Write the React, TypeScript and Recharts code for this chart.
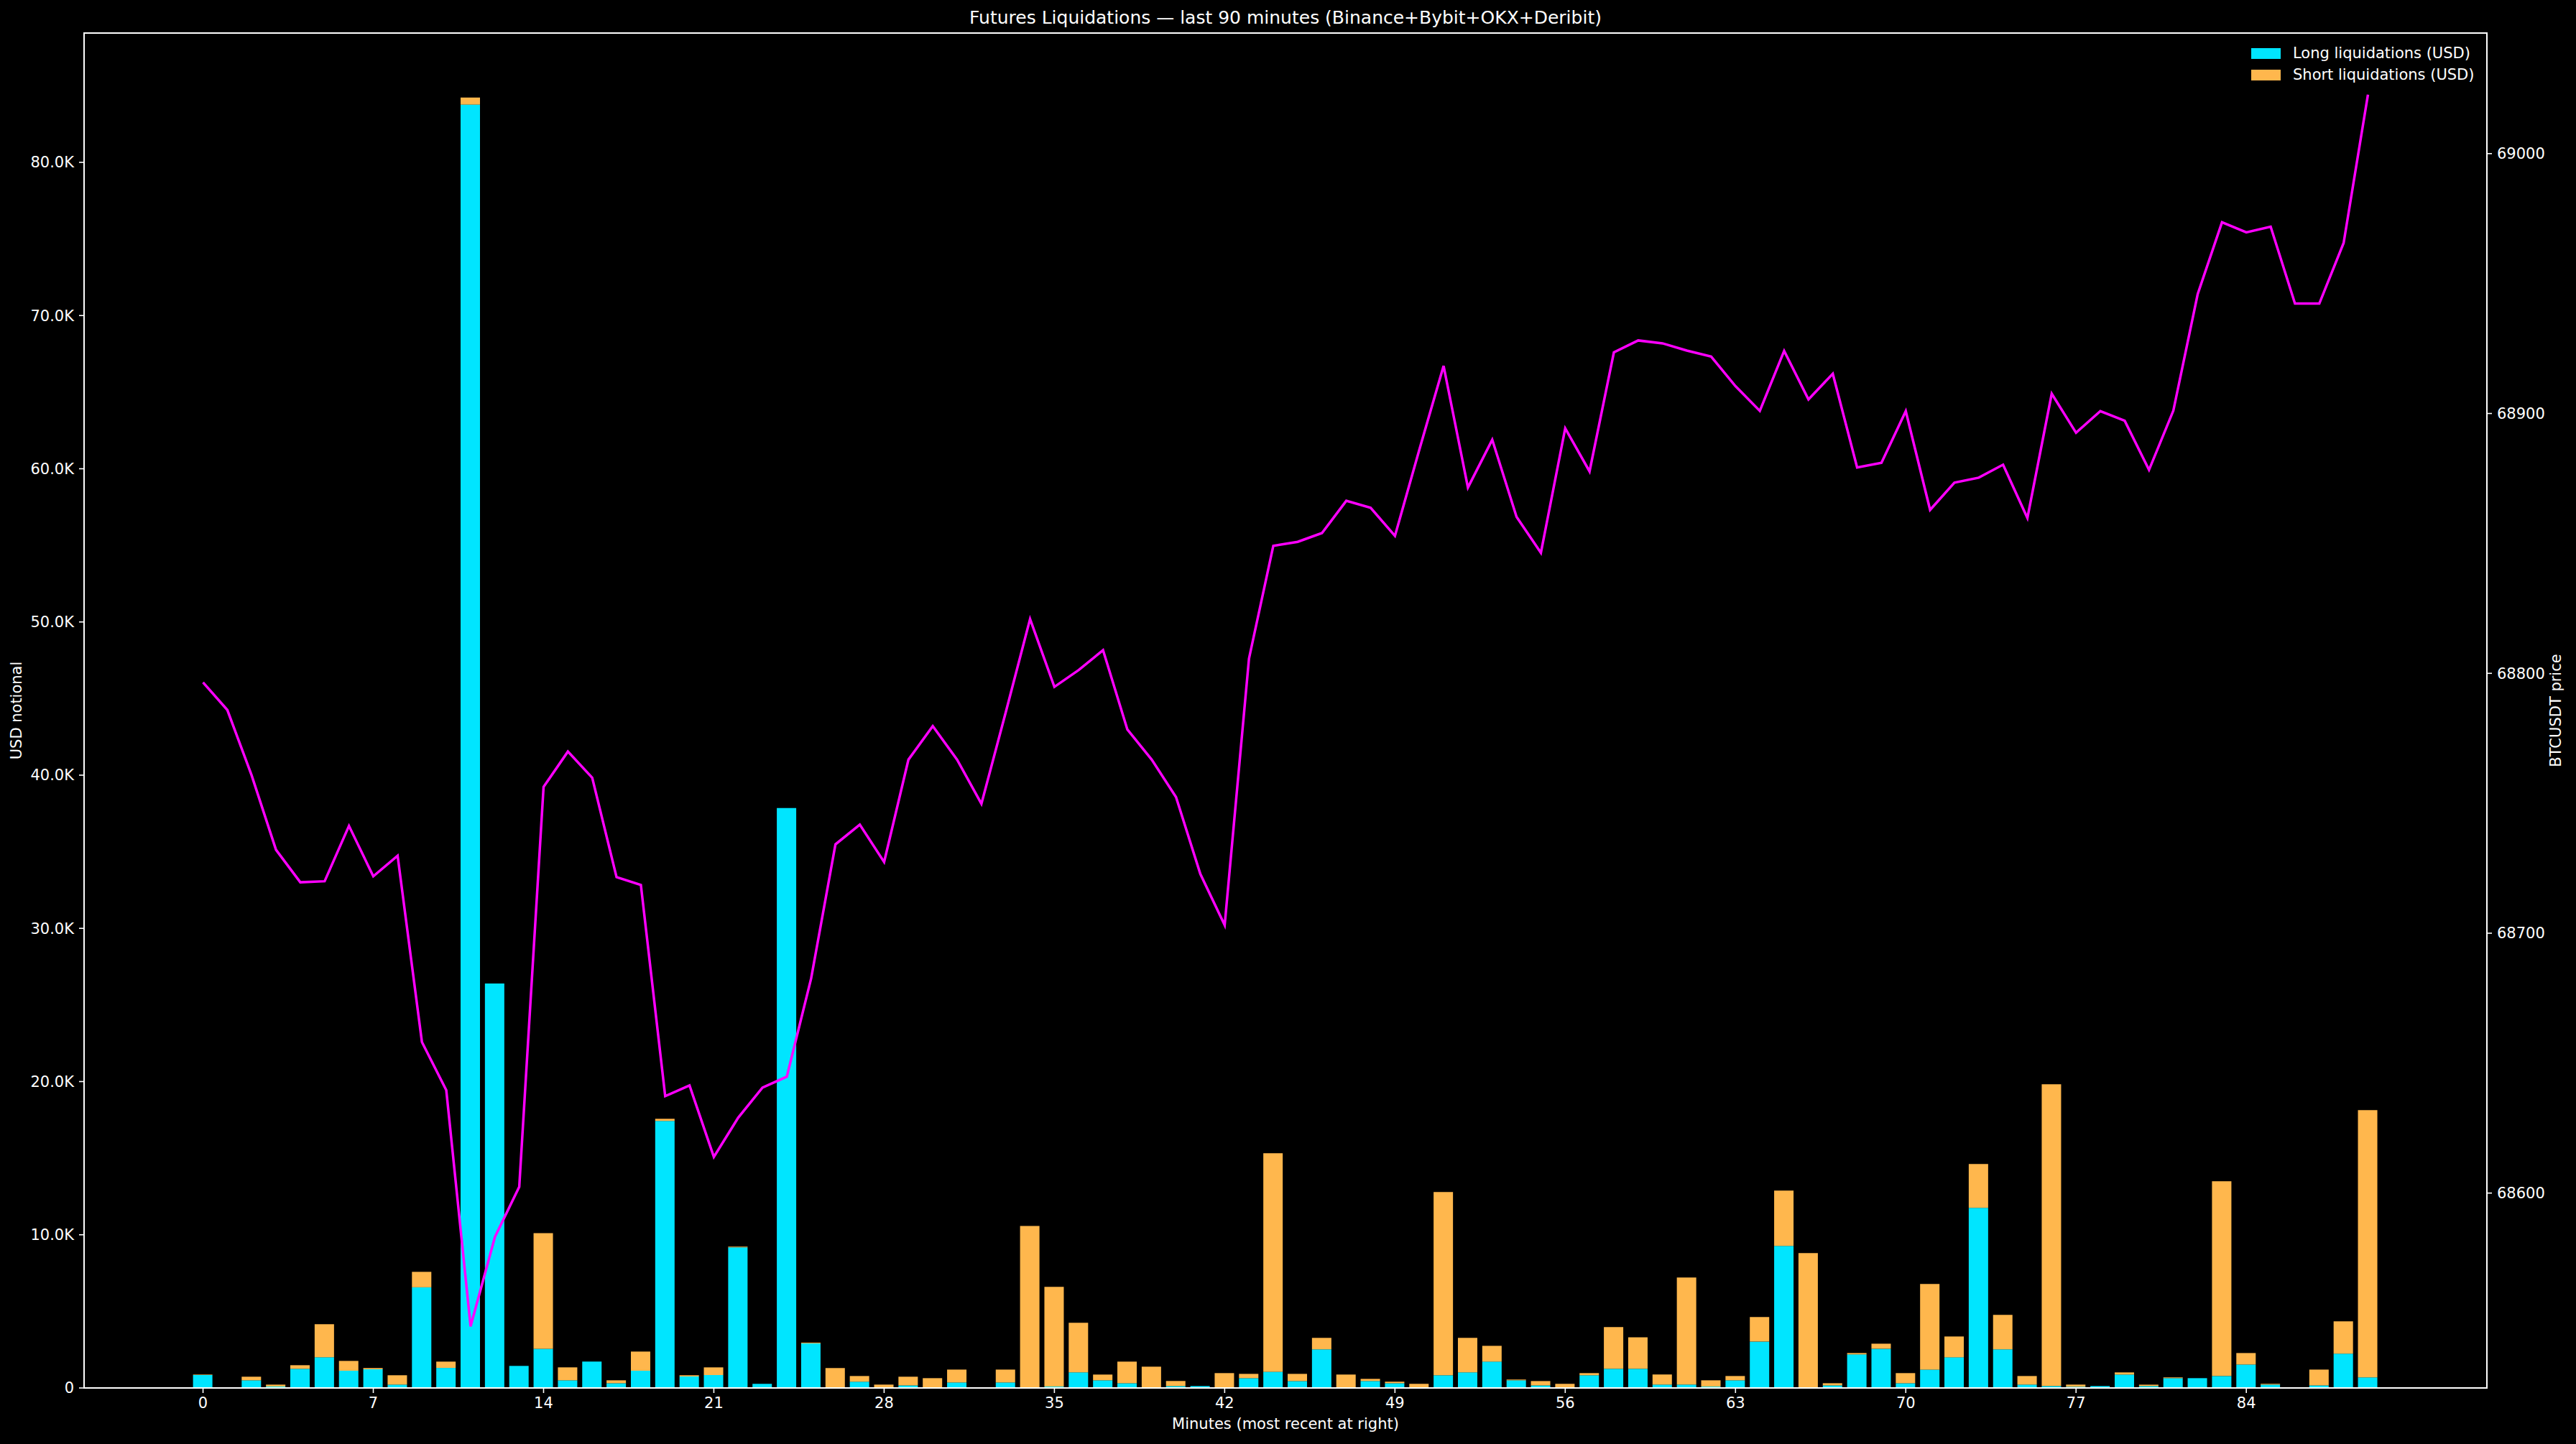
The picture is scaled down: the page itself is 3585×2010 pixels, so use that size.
import React from "react";
import {
  ComposedChart,
  Bar,
  Line,
  XAxis,
  YAxis,
} from "recharts";

// per-minute liquidation notional (USD), oldest at left
const longUsd = [
  844, 0, 500, 94, 1250, 2000, 1126, 1220, 220, 6570,
  1310, 83770, 26400, 1440, 2560, 500, 1720, 310, 1126, 17430,
  750, 844, 9180, 270, 37850, 2910, 0, 410, 0, 170,
  0, 360, 0, 360, 0, 90, 1020, 500, 310, 0,
  125, 125, 0, 640, 1060, 450, 2520, 0, 453, 310,
  0, 830, 1020, 1720, 500, 170, 0, 830, 1250, 1250,
  220, 220, 90, 500, 3030, 9270, 0, 170, 2190, 2560,
  310, 1200, 2000, 11760, 2520, 220, 125, 80, 125, 876,
  125, 640, 640, 780, 1530, 220, 0, 170, 2240, 690,
];

const shortUsd = [
  30, 0, 235, 125, 235, 2160, 640, 80, 610, 1010,
  410, 460, 0, 0, 7550, 845, 0, 190, 1250, 140,
  80, 500, 50, 0, 0, 50, 1300, 370, 220, 565,
  640, 840, 0, 840, 10580, 6510, 3230, 375, 1410, 1390,
  330, 0, 970, 280, 14260, 470, 750, 876, 140, 100,
  270, 11960, 2250, 1030, 50, 280, 270, 140, 2720, 2060,
  660, 6990, 410, 280, 1600, 3610, 8800, 140, 90, 330,
  660, 5590, 1360, 2860, 2250, 560, 19700, 140, 0, 140,
  90, 50, 0, 12710, 750, 50, 0, 1030, 2110, 17450,
];

const btcPrice = [
  68796.5, 68785.9, 68760.7, 68732.1, 68719.6, 68720.0, 68741.3, 68721.9, 68729.8, 68658.1,
  68639.6, 68548.7, 68583.1, 68602.4, 68756.3, 68769.9, 68759.8, 68721.6, 68718.6, 68637.3,
  68641.4, 68613.9, 68629.0, 68640.6, 68644.8, 68682.6, 68734.2, 68741.8, 68727.4, 68766.8,
  68779.7, 68766.8, 68749.8, 68785.0, 68820.9, 68794.8, 68801.3, 68808.9, 68778.4, 68766.8,
  68752.4, 68722.8, 68703.1, 68805.7, 68849.1, 68850.6, 68854.0, 68866.4, 68863.7, 68852.9,
  68886.0, 68918.3, 68871.5, 68889.9, 68860.2, 68846.4, 68894.3, 68877.7, 68923.5, 68928.1,
  68927.0, 68924.2, 68921.9, 68910.5, 68901.0, 68924.1, 68905.4, 68915.3, 68879.2, 68881.0,
  68900.9, 68862.9, 68873.4, 68875.3, 68880.3, 68859.8, 68907.6, 68892.6, 68900.9, 68897.2,
  68878.3, 68901.1, 68945.9, 68973.6, 68969.7, 68971.9, 68942.3, 68942.3, 68965.6, 69022.7,
];

const minuteTicks = [0, 7, 14, 21, 28, 35, 42, 49, 56, 63, 70, 77, 84];
const usdTicks = [0, 10000, 20000, 30000, 40000, 50000, 60000, 70000, 80000];
const priceTicks = [68600, 68700, 68800, 68900, 69000];

const rows = btcPrice.map((p, i) => ({
  minute: i,
  long: longUsd[i],
  short: shortUsd[i],
  price: p,
}));

const FONT = "'DejaVu Sans', 'Liberation Sans', sans-serif";
const CYAN = "#00e5ff";
const ORANGE = "#ffb74d";
const MAGENTA = "#ff00ff";

// plot rectangle, in page px
const PL = 117;
const PR = 3461;
const PT = 46;
const PB = 1932;

const fmtK = (v: number) => (v === 0 ? "0" : `${(v / 1000).toFixed(1)}K`);

const tickStyle = { fill: "#ffffff", fontSize: 21, fontFamily: FONT };
const tickLine = { stroke: "#ffffff", strokeWidth: 1.6 };

export default function App() {
  return (
    <div
      style={{
        position: "fixed",
        left: 0,
        top: 0,
        width: 3585,
        height: 2010,
        background: "#000000",
        fontFamily: FONT,
        color: "#ffffff",
      }}
    >
      <ComposedChart
        width={3585}
        height={2010}
        data={rows}
        margin={{ top: PT, right: 3585 - PR - 100, bottom: 2010 - PB - 60, left: PL - 100 }}
      >
        <XAxis
          dataKey="minute"
          type="number"
          domain={[-4.89, 93.89]}
          ticks={minuteTicks}
          interval={0}
          height={60}
          axisLine={false}
          tickLine={tickLine}
          tickSize={7}
          tickMargin={6}
          tick={tickStyle}
        />
        <YAxis
          yAxisId="left"
          type="number"
          domain={[0, 88440]}
          ticks={usdTicks}
          tickFormatter={fmtK}
          width={100}
          axisLine={false}
          tickLine={tickLine}
          tickSize={7}
          tickMargin={7}
          tick={tickStyle}
        />
        <YAxis
          yAxisId="right"
          orientation="right"
          type="number"
          domain={[68525.0, 69046.4]}
          ticks={priceTicks}
          width={100}
          axisLine={false}
          tickLine={tickLine}
          tickSize={7}
          tickMargin={7}
          tick={tickStyle}
        />
        <Bar
          yAxisId="left"
          dataKey="long"
          stackId="liq"
          fill={CYAN}
          barSize={27}
          isAnimationActive={false}
        />
        <Bar
          yAxisId="left"
          dataKey="short"
          stackId="liq"
          fill={ORANGE}
          barSize={27}
          isAnimationActive={false}
        />
        <Line
          yAxisId="right"
          dataKey="price"
          type="linear"
          stroke={MAGENTA}
          strokeWidth={3.5}
          dot={false}
          activeDot={false}
          isAnimationActive={false}
        />
      </ComposedChart>

      {/* axes frame (all four spines) */}
      <div
        style={{
          position: "absolute",
          left: PL - 1,
          top: PT - 1,
          width: PR - PL + 2,
          height: PB - PT + 2,
          border: "2px solid #ffffff",
          boxSizing: "border-box",
          pointerEvents: "none",
        }}
      />

      <div
        style={{
          position: "absolute",
          left: PL,
          width: PR - PL,
          top: 10,
          textAlign: "center",
          fontSize: 25,
          lineHeight: "30px",
        }}
      >
        Futures Liquidations — last 90 minutes (Binance+Bybit+OKX+Deribit)
      </div>

      <div
        style={{
          position: "absolute",
          left: PL,
          width: PR - PL,
          top: 1969,
          textAlign: "center",
          fontSize: 21,
          lineHeight: "26px",
        }}
      >
        Minutes (most recent at right)
      </div>

      <div
        style={{
          position: "absolute",
          left: 23,
          top: (PT + PB) / 2,
          transform: "translate(-50%, -50%) rotate(-90deg)",
          fontSize: 21,
          lineHeight: "26px",
          whiteSpace: "nowrap",
        }}
      >
        USD notional
      </div>

      <div
        style={{
          position: "absolute",
          left: 3557,
          top: (PT + PB) / 2,
          transform: "translate(-50%, -50%) rotate(-90deg)",
          fontSize: 21,
          lineHeight: "26px",
          whiteSpace: "nowrap",
        }}
      >
        BTCUSDT price
      </div>

      {/* legend, upper right inside the axes */}
      {[
        { label: "Long liquidations (USD)", color: CYAN, cy: 74 },
        { label: "Short liquidations (USD)", color: ORANGE, cy: 104 },
      ].map((item) => (
        <div key={item.label}>
          <div
            style={{
              position: "absolute",
              left: 3133,
              top: item.cy - 7,
              width: 41,
              height: 15,
              background: item.color,
            }}
          />
          <div
            style={{
              position: "absolute",
              left: 3191,
              top: item.cy - 13,
              fontSize: 21,
              lineHeight: "26px",
              whiteSpace: "nowrap",
            }}
          >
            {item.label}
          </div>
        </div>
      ))}
    </div>
  );
}
